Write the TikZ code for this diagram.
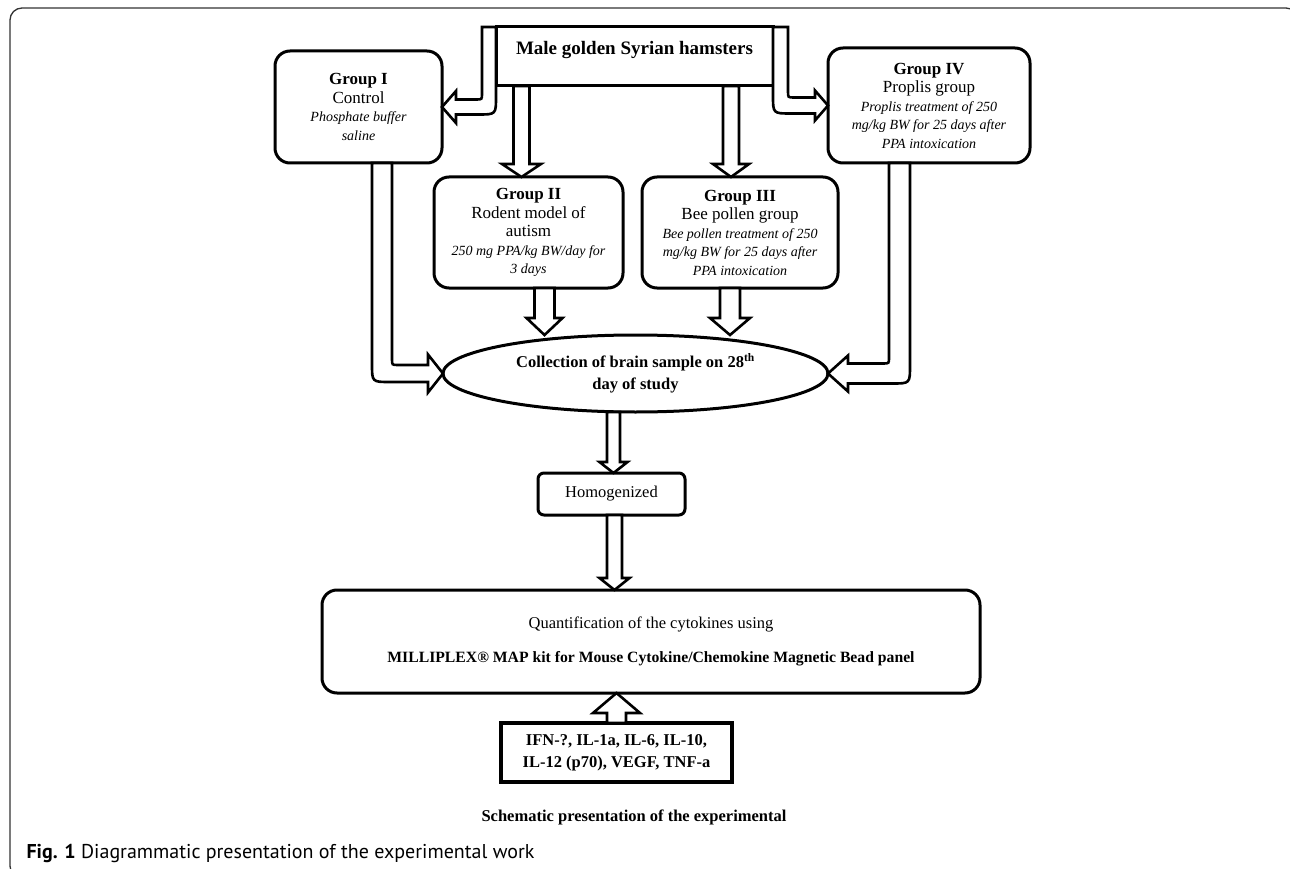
\documentclass[tikz,border=0pt]{standalone}
\usepackage{fontspec}
\setmainfont{Liberation Serif}
\newfontfamily\capfont{PT Sans}
\usepackage{tikz}
\usetikzlibrary{positioning, shapes.geometric, calc}
\tikzset{blockarrow/.style={draw=black, line width=2.6pt, fill=white, line join=miter}}
\newcommand{\grpnote}[1]{{\fontsize{14}{16}\selectfont\itshape #1}}
% straight hollow arrow: start, tip, half shaft, half head, head length
\newcommand{\downblock}[5]{%
  \draw[blockarrow] let \p1=#1, \p2=#2 in
    ({\x1-#3pt},\y1) -- ({\x1-#3pt},{\y2+(#5pt)}) -- ({\x1-#4pt},{\y2+(#5pt)}) -- (\x1,\y2)
    -- ({\x1+#4pt},{\y2+(#5pt)}) -- ({\x1+#3pt},{\y2+(#5pt)}) -- ({\x1+#3pt},\y1) -- cycle;}
% bent hollow arrow: start, tip, direction, half shaft, half arm, half head, head length
\newcommand{\bentblock}[7]{%
  \draw[blockarrow] let \p1=#1, \p2=#2 in
    ({\x1-(#3)*#4pt},\y1) -- ({\x1-(#3)*#4pt},{\y2-#5pt+18pt})
    .. controls ({\x1-(#3)*#4pt},{\y2-#5pt}) .. ({\x1-(#3)*#4pt+(#3)*18pt},{\y2-#5pt})
    -- ({\x2-(#3)*#7pt},{\y2-#5pt}) -- ({\x2-(#3)*#7pt},{\y2-#6pt}) -- (\x2,\y2)
    -- ({\x2-(#3)*#7pt},{\y2+#6pt}) -- ({\x2-(#3)*#7pt},{\y2+#5pt})
    -- ({\x1+(#3)*#4pt+(#3)*6pt},{\y2+#5pt})
    .. controls ({\x1+(#3)*#4pt},{\y2+#5pt}) .. ({\x1+(#3)*#4pt},{\y2+#5pt+6pt})
    -- ({\x1+(#3)*#4pt},\y1) -- cycle;}

\begin{document}
\begin{tikzpicture}[
    x=1pt, y=-1pt,
    topbox/.style={rectangle, draw=black, line width=3pt, outer sep=0pt, inner xsep=4pt, inner ysep=3pt, minimum width=277pt, text height=25pt, text depth=28pt, font=\fontsize{19}{22}\selectfont\bfseries},
    groupbox/.style={rectangle, draw=black, line width=3pt, rounded corners=15pt, outer sep=0pt, inner sep=2pt, align=center, font=\fontsize{17}{18.5}\selectfont},
    collect/.style={ellipse, draw=black, line width=3pt, outer sep=0pt, inner sep=0pt, minimum width=385pt, minimum height=77pt, align=center, font=\fontsize{16.5}{18}\selectfont\bfseries},
    stepbox/.style={rectangle, draw=black, line width=3pt, rounded corners=#1, outer sep=0pt, align=center, font=\fontsize{16.5}{18}\selectfont},
    listbox/.style={rectangle, draw=black, line width=3.5pt, outer sep=0pt, align=center, minimum width=231pt, minimum height=59pt, font=\fontsize{16.5}{18}\selectfont\bfseries}
]
    \useasboundingbox (0,0) rectangle (1290,869);
    \draw[black!80, line width=1.3pt, rounded corners=12pt] (10,8) rectangle (1298,878);

    \node[topbox] (hamsters) at (634.5,56.5) {Male golden Syrian hamsters};
    \node[groupbox, minimum width=167pt, minimum height=112pt] (g1) at (358.5,107)
        {\textbf{Group I}\\ Control\\ \grpnote{Phosphate buffer}\\ \grpnote{saline}};
    \node[groupbox, minimum width=202pt, minimum height=115pt] (g4) at (929,105.5)
        {\textbf{Group IV}\\ Proplis group\\ \grpnote{Proplis treatment of 250}\\ \grpnote{mg/kg BW for 25 days after}\\ \grpnote{PPA intoxication}};
    \node[groupbox, minimum width=189pt, minimum height=111pt] (g2) at (528.5,232.5)
        {\textbf{Group II}\\ Rodent model of\\ autism\\ \grpnote{250 mg PPA/kg BW/day for}\\ \grpnote{3 days}};
    \node[groupbox, minimum width=196pt, minimum height=111pt] (g3) at (740,232.5)
        {\textbf{Group III}\\ Bee pollen group\\ \grpnote{Bee pollen treatment of 250}\\ \grpnote{mg/kg BW for 25 days after}\\ \grpnote{PPA intoxication}};
    \node[collect] (coll) at (635.5,373.5) {Collection of brain sample on 28\textsuperscript{th}\\[4pt] day of study};
    \node[stepbox=6pt, minimum width=147pt, minimum height=42pt] (homog) at (611.5,494) {Homogenized};
    \node[stepbox=15pt, minimum width=658pt, minimum height=103pt] (quant) at (651,641.5)
        {Quantification of the cytokines using\\[16pt] {\fontsize{15.7}{18}\selectfont\bfseries MILLIPLEX® MAP kit for Mouse Cytokine/Chemokine Magnetic Bead panel}};
    \node[listbox] (cyto) at (616.5,752.5) {IFN-?, IL-1a, IL-6, IL-10,\\[4pt] IL-12 (p70), VEGF,\ TNF-a};
    \node[font=\fontsize{16.5}{18}\selectfont\bfseries] (schematic) at (634,817) {Schematic presentation of the experimental};
    \node[anchor=west, font=\capfont\fontsize{20}{23}\selectfont] (caption) at (23,853)
        {\textbf{Fig. 1} Diagrammatic presentation of the experimental work};

    \bentblock{([xshift=-7pt]hamsters.north west)}{(g1.east)}{-1}{7}{7.5}{16}{14}
    \bentblock{([xshift=7.5pt]hamsters.north east)}{(g4.west)}{1}{7.5}{8}{15}{13}
    \bentblock{([xshift=23.5pt]g1.south)}{(coll.west)}{1}{10}{8.5}{19}{15}
    \bentblock{([xshift=-29.5pt]g4.south)}{(coll.east)}{-1}{10.5}{10}{18}{20}
    \downblock{([xshift=25.5pt]hamsters.south west)}{(g2.north)}{8}{19.5}{13}
    \downblock{([xshift=-42pt]hamsters.south east)}{(g3.north)}{8}{18}{13}
    \downblock{([xshift=16pt]g2.south)}{(coll.north)}{10}{18}{17}
    \downblock{([xshift=-10pt]g3.south)}{(coll.north)}{10}{20}{17}
    \downblock{([xshift=-22pt]coll.south)}{(homog.north)}{6.5}{14}{11}
    \downblock{([xshift=3pt]homog.south)}{(quant.north)}{7.5}{15}{12}
    \downblock{(cyto.north)}{(quant.south)}{9.5}{23.5}{-20}
\end{tikzpicture}
\end{document}
